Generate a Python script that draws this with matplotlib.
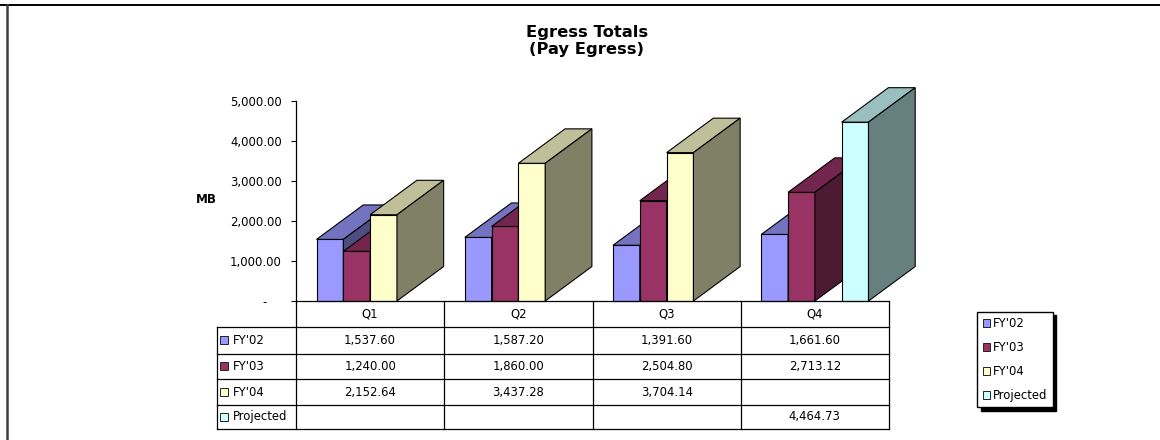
import matplotlib
matplotlib.use('Agg')
from matplotlib import pyplot as plt
from matplotlib.patches import Polygon, Patch
from matplotlib.lines import Line2D
from matplotlib.ticker import FuncFormatter, FixedLocator
from matplotlib.transforms import blended_transform_factory
from matplotlib.colors import to_rgb
import numpy as np

categories = ['Q1', 'Q2', 'Q3', 'Q4']
series_names = ["FY'02", "FY'03", "FY'04", 'Projected']
fy02 = [1537.60, 1587.20, 1391.60, 1661.60]
fy03 = [1240.00, 1860.00, 2504.80, 2713.12]
fy04 = [2152.64, 3437.28, 3704.14, None]
projected = [None, None, None, 4464.73]
y_ticks = [0, 1000, 2000, 3000, 4000, 5000]

series = [fy02, fy03, fy04, projected]
front_colors = ['#9999FF', '#993366', '#FFFFCC', '#CCFFFF']

FS = 8.4

fig = plt.figure(figsize=(11.6, 4.4), dpi=100)
ax = fig.add_axes([296 / 1160, 1 - 301 / 440, 593 / 1160, 200.3 / 440])
ax.set_xlim(0, 4)
ax.set_ylim(0, 5000)

# column geometry: 4 slots per quarter, centred, plus a fixed 3-D depth offset
bar_w = 0.1808
left_gap = 0.1385
depth_x, depth_y = 0.315, 860


def shade(c, f):
    return tuple(np.array(to_rgb(c)) * f)


for i in range(len(categories)):
    for j, vals in enumerate(series):
        v = vals[i]
        if v is None:
            continue
        c = front_colors[j]
        x0 = i + left_gap + j * bar_w
        x1 = x0 + bar_w
        faces = [
            ([(x0, 0), (x1, 0), (x1, v), (x0, v)], c),
            ([(x0, v), (x1, v), (x1 + depth_x, v + depth_y), (x0 + depth_x, v + depth_y)], shade(c, 0.75)),
            ([(x1, 0), (x1 + depth_x, depth_y), (x1 + depth_x, v + depth_y), (x1, v)], shade(c, 0.5)),
        ]
        for pts, fc in faces:
            ax.add_patch(Polygon(pts, closed=True, facecolor=fc, edgecolor='black',
                                 linewidth=0.8, clip_on=False, joinstyle='miter'))

# axes styling
for s in ['top', 'right']:
    ax.spines[s].set_visible(False)
ax.spines['left'].set_linewidth(0.9)
ax.spines['bottom'].set_linewidth(0.9)
ax.set_xticks([])
ax.yaxis.set_major_locator(FixedLocator(y_ticks))
ax.yaxis.set_major_formatter(FuncFormatter(lambda v, p: '-    ' if v == 0 else f'{v:,.2f}'))
ax.tick_params(axis='y', direction='out', length=3.6, width=0.8, pad=6.5, labelsize=FS, colors='black')
ax.set_ylabel('MB', rotation=0, fontweight='bold', fontsize=8.6, va='center', ha='center')
ax.yaxis.set_label_coords(-0.1518, 0.509)

# data table under the plot
tr = blended_transform_factory(ax.transData, ax.transAxes)
ax_h = 200.3
row_edges = [0, -26.3 / ax_h, -52.5 / ax_h, -78.3 / ax_h, -103.8 / ax_h, -127.5 / ax_h]
label_left = -0.535
line_kw = dict(color='black', linewidth=0.9, transform=tr, clip_on=False)

for yy in row_edges[1:]:
    ax.plot([label_left, 4], [yy, yy], **line_kw)
for xx in range(0, 5):
    ax.plot([xx, xx], [0, row_edges[-1]], **line_kw)
ax.plot([label_left, label_left], [row_edges[1], row_edges[-1]], **line_kw)

hdr_y = (row_edges[0] + row_edges[1]) / 2
for i, cat in enumerate(categories):
    ax.text(i + 0.5, hdr_y, cat, transform=tr, ha='center', va='center', fontsize=FS)

for j, (name, vals) in enumerate(zip(series_names, series)):
    yc = (row_edges[j + 1] + row_edges[j + 2]) / 2
    ax.plot([-0.487], [yc], marker='s', markersize=5.4, markerfacecolor=front_colors[j],
            markeredgecolor='#222222', markeredgewidth=0.7, transform=tr, clip_on=False)
    ax.text(-0.427, yc, name, transform=tr, ha='left', va='center', fontsize=FS)
    for i, v in enumerate(vals):
        if v is not None:
            ax.text(i + 0.5, yc, f'{v:,.2f}', transform=tr, ha='center', va='center', fontsize=FS)

# legend with a solid drop shadow
handles = [Patch(facecolor=c, edgecolor='#222222', linewidth=0.7) for c in front_colors]
fig.legend(handles, series_names, loc='upper left', bbox_to_anchor=(977.3 / 1160, 1 - 311.7 / 440),
           bbox_transform=fig.transFigure, borderaxespad=0, fontsize=FS, frameon=True, fancybox=False,
           edgecolor='black', framealpha=1, handlelength=0.65, handleheight=0.65, handletextpad=0.25,
           labelspacing=0.95, borderpad=0.45,
           shadow={'ox': 2.4, 'oy': -2.4, 'color': 'black', 'alpha': 1})

fig.text(586.7 / 1160, 1 - 41 / 440, 'Egress Totals\n(Pay Egress)', ha='center', va='center',
         fontweight='bold', fontsize=11.8, linespacing=1.1)

# chart area border (top and left edges)
fig.add_artist(Line2D([0, 1], [1 - 5.5 / 440] * 2, color='black', linewidth=1.4, transform=fig.transFigure))
fig.add_artist(Line2D([7 / 1160] * 2, [0, 1 - 5 / 440], color='#404040', linewidth=1.8, transform=fig.transFigure))

fig.savefig('out.png', dpi=100)
